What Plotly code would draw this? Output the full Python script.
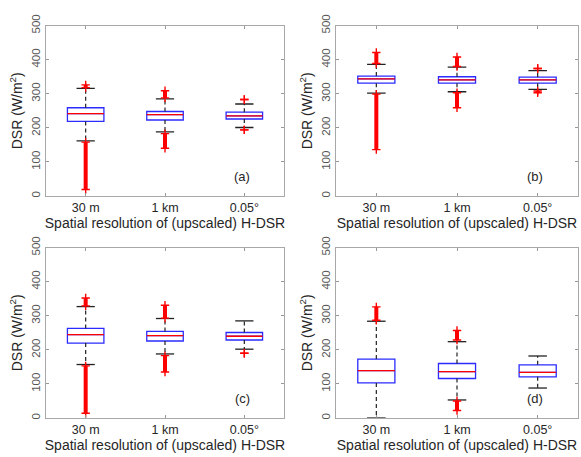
import plotly.graph_objects as go
from plotly.subplots import make_subplots

# Spatial resolutions compared in every panel
categories = ["30 m", "1 km", "0.05°"]
positions = [1, 2, 3]
panel_labels = ["(a)", "(b)", "(c)", "(d)"]

# Box statistics (W/m^2) per panel: lower whisker, Q1, median, Q3, upper whisker
lower_a = [162, 188, 201]
q1_a = [219, 223, 226]
median_a = [242, 239, 235]
q3_a = [259, 248, 246]
upper_a = [316, 285, 270]

lower_b = [302, 306, 313]
q1_b = [331, 331, 331]
median_b = [344, 341, 341]
q3_b = [352, 350, 349]
upper_b = [386, 378, 368]

lower_c = [157, 188, 202]
q1_c = [220, 226, 229]
median_c = [245, 242, 240]
q3_c = [263, 254, 251]
upper_c = [327, 292, 285]

lower_d = [0, 53, 88]
q1_d = [103, 116, 121]
median_d = [139, 136, 134]
q3_d = [173, 160, 156]
upper_d = [284, 224, 182]

# Outlier extents (min, max) above the upper whisker and below the lower whisker
high_out_a = [(318, 326), (288, 309), (283, 283)]
low_out_a = [(19, 158), (140, 183), (194, 194)]

high_out_b = [(389, 421), (380, 408), (374, 374)]
low_out_b = [(136, 299), (259, 303), (303, 308)]

high_out_c = [(329, 352), (293, 331), None]
low_out_c = [(14, 153), (135, 183), (190, 190)]

high_out_d = [(287, 326), (229, 257), None]
low_out_d = [None, (22, 50), None]

panels = [
    (lower_a, q1_a, median_a, q3_a, upper_a, high_out_a, low_out_a),
    (lower_b, q1_b, median_b, q3_b, upper_b, high_out_b, low_out_b),
    (lower_c, q1_c, median_c, q3_c, upper_c, high_out_c, low_out_c),
    (lower_d, q1_d, median_d, q3_d, upper_d, high_out_d, low_out_d),
]

BOX_W = 0.46
CAP_W = 0.23
BLUE = "#2b2bff"
RED = "#ff0000"
FONT = "Liberation Sans, Arial, sans-serif"

fig = make_subplots(rows=2, cols=2)

cells = [(1, 1), (1, 2), (2, 1), (2, 2)]
for (row, col), (lo, q1, med, q3, hi, hout, lout) in zip(cells, panels):
    # box outline (whiskers drawn separately in black dashes)
    fig.add_trace(go.Box(
        x=positions, q1=q1, median=med, q3=q3, lowerfence=q1, upperfence=q3,
        width=BOX_W, whiskerwidth=0, boxpoints=False,
        line=dict(color=BLUE, width=1.3), fillcolor="rgba(0,0,0,0)",
        showlegend=False, hoverinfo="skip"), row=row, col=col)

    wx, wy, cx, cy, mx, my = [], [], [], [], [], []
    for p, a, b, c, d, m in zip(positions, lo, q1, q3, hi, med):
        wx += [p, p, None, p, p, None]
        wy += [c, d, None, b, a, None]
        cx += [p - CAP_W / 2, p + CAP_W / 2, None, p - CAP_W / 2, p + CAP_W / 2, None]
        cy += [d, d, None, a, a, None]
        mx += [p - BOX_W / 2, p + BOX_W / 2, None]
        my += [m, m, None]
    fig.add_trace(go.Scatter(x=wx, y=wy, mode="lines",
                             line=dict(color="#222222", width=1.2, dash="4px,3px"),
                             showlegend=False, hoverinfo="skip"), row=row, col=col)
    fig.add_trace(go.Scatter(x=cx, y=cy, mode="lines",
                             line=dict(color="#222222", width=1.3),
                             showlegend=False, hoverinfo="skip"), row=row, col=col)
    fig.add_trace(go.Scatter(x=mx, y=my, mode="lines",
                             line=dict(color=RED, width=1.3),
                             showlegend=False, hoverinfo="skip"), row=row, col=col)

    # outliers: dense runs of "+" drawn as a thick red band with "+" at the ends
    bx, by, px, py = [], [], [], []
    for p, h, l in zip(positions, hout, lout):
        for rng in (h, l):
            if rng is None:
                continue
            if rng[0] != rng[1]:
                bx += [p, p, None]
                by += [rng[0], rng[1], None]
            px += [p, p]
            py += [rng[0], rng[1]]
    fig.add_trace(go.Scatter(x=bx, y=by, mode="lines",
                             line=dict(color=RED, width=4),
                             showlegend=False, hoverinfo="skip"), row=row, col=col)
    fig.add_trace(go.Scatter(x=px, y=py, mode="markers",
                             marker=dict(symbol="cross-thin", size=6,
                                         line=dict(color=RED, width=1.4)),
                             showlegend=False, hoverinfo="skip"), row=row, col=col)

W, H = 581, 457
x_domains = [(46 / W, 284 / W), (336 / W, 578 / W)]
y_domains = [(1 - 190 / H, 1 - 15 / H), (1 - 418 / H, 1 - 243 / H)]

for i, (row, col) in enumerate(cells):
    fig.update_xaxes(
        domain=x_domains[col - 1], range=[0.5, 3.5],
        tickvals=positions, ticktext=categories,
        ticks="inside", ticklen=3, tickcolor="#999999",
        showline=True, linecolor="#a8a8a8", linewidth=1, mirror="ticks",
        showgrid=False, zeroline=False,
        tickfont=dict(family=FONT, size=12.5, color="#262626"),
        title=dict(text="Spatial resolution of (upscaled) H-DSR",
                   font=dict(family=FONT, size=14, color="#262626"), standoff=1),
        row=row, col=col)
    fig.update_yaxes(
        domain=y_domains[row - 1], range=[0, 500], tickvals=[0, 100, 200, 300, 400, 500],
        ticks="inside", ticklen=3, tickcolor="#999999", tickangle=-90,
        showline=True, linecolor="#a8a8a8", linewidth=1, mirror="ticks",
        showgrid=False, zeroline=False,
        tickfont=dict(family=FONT, size=11.5, color="#555555"),
        title=dict(text="DSR (W/m<sup>2</sup>)",
                   font=dict(family=FONT, size=14, color="#262626"), standoff=4),
        row=row, col=col)
    xref = "x domain" if i == 0 else f"x{i + 1} domain"
    yref = "y domain" if i == 0 else f"y{i + 1} domain"
    fig.add_annotation(text=panel_labels[i], xref=xref, yref=yref,
                       x=0.865, y=0.06, showarrow=False,
                       font=dict(family=FONT, size=13, color="#262626"))

fig.update_layout(
    width=W, height=H, margin=dict(l=0, r=0, t=0, b=0),
    paper_bgcolor="white", plot_bgcolor="white", showlegend=False,
)

fig.write_html("out.html")
